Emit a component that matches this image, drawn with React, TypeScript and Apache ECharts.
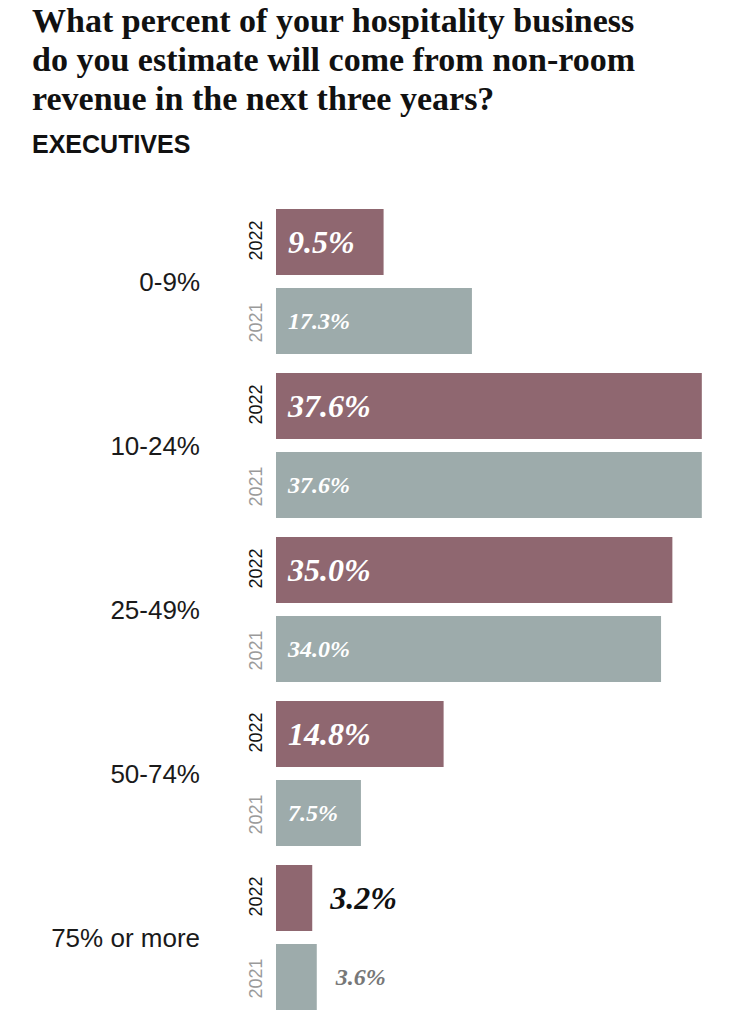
import React, { useEffect, useRef } from "react";
import * as echarts from "echarts";

const titleText =
  "What percent of your hospitality business\ndo you estimate will come from non-room\nrevenue in the next three years?";
const subtitleText = "EXECUTIVES";

const categories = ["0-9%", "10-24%", "25-49%", "50-74%", "75% or more"];
const years = ["2022", "2021"];
const values2022 = [9.5, 37.6, 35.0, 14.8, 3.2];
const values2021 = [17.3, 37.6, 34.0, 7.5, 3.6];

const MAROON = "#8f6770";
const GRAY = "#9dabab";
const SERIF = "'Liberation Serif', 'Times New Roman', serif";
const SANS = "'Liberation Sans', Arial, sans-serif";

const yearSlots = categories.flatMap((c, i) => years.map((y) => `${y}|${i}`));

function buildData(values: number[], outsideColor: string, distance: number) {
  return values.map((v) => {
    if (v < 5) {
      return {
        value: v,
        label: { position: "right", color: outsideColor, distance },
      };
    }
    return { value: v };
  });
}

export default function App() {
  const ref = useRef<HTMLDivElement>(null);

  useEffect(() => {
    document.body.style.margin = "0";
    if (!ref.current) return;
    const chart = echarts.init(ref.current, undefined, { renderer: "svg" });
    chart.setOption({
      animation: false,
      backgroundColor: "#ffffff",
      title: [
        {
          text: titleText,
          left: 32,
          top: 1,
          padding: 0,
          textStyle: {
            fontFamily: SERIF,
            fontWeight: "bold",
            fontSize: 34,
            lineHeight: 39,
            color: "#111111",
          },
        },
        {
          text: subtitleText,
          left: 32,
          top: 131,
          padding: 0,
          textStyle: {
            fontFamily: SANS,
            fontWeight: "bold",
            fontSize: 25,
            color: "#111111",
          },
        },
      ],
      grid: { left: 276, top: 199.5, width: 453, height: 820 },
      xAxis: {
        type: "value",
        min: 0,
        max: 40,
        show: false,
      },
      yAxis: [
        {
          type: "category",
          data: categories,
          inverse: true,
          position: "left",
          axisLine: { show: false },
          axisTick: { show: false },
          axisLabel: {
            margin: 76,
            fontFamily: SANS,
            fontSize: 26,
            color: "#1a1a1a",
            interval: 0,
          },
        },
        {
          type: "category",
          data: yearSlots,
          inverse: true,
          position: "left",
          axisLine: { show: false },
          axisTick: { show: false },
          axisLabel: {
            interval: 0,
            rotate: 90,
            margin: 11,
            formatter: (v: string) => {
              const y = v.split("|")[0];
              return y === "2022" ? `{a|${y}}` : `{b|${y}}`;
            },
            rich: {
              a: { fontFamily: SANS, fontSize: 18, color: "#111111" },
              b: { fontFamily: SANS, fontSize: 18, color: "#9a9a9a" },
            },
          },
        },
      ],
      series: [
        {
          name: years[0],
          type: "bar",
          yAxisIndex: 0,
          data: buildData(values2022, "#111111", 18),
          barWidth: 66,
          barGap: "20%",
          itemStyle: { color: MAROON },
          label: {
            show: true,
            position: "insideLeft",
            distance: 12,
            color: "#ffffff",
            fontFamily: SERIF,
            fontStyle: "italic",
            fontWeight: "bold",
            fontSize: 32,
            formatter: (p: any) => `${Number(p.value).toFixed(1)}%`,
          },
        },
        {
          name: years[1],
          type: "bar",
          yAxisIndex: 0,
          data: buildData(values2021, "#777777", 19),
          barWidth: 66,
          barGap: "20%",
          itemStyle: { color: GRAY },
          label: {
            show: true,
            position: "insideLeft",
            distance: 12,
            color: "#ffffff",
            fontFamily: SERIF,
            fontStyle: "italic",
            fontWeight: "bold",
            fontSize: 24,
            formatter: (p: any) => `${Number(p.value).toFixed(1)}%`,
          },
        },
      ],
    });
    return () => chart.dispose();
  }, []);

  return <div ref={ref} style={{ width: 740, height: 1024 }} />;
}
